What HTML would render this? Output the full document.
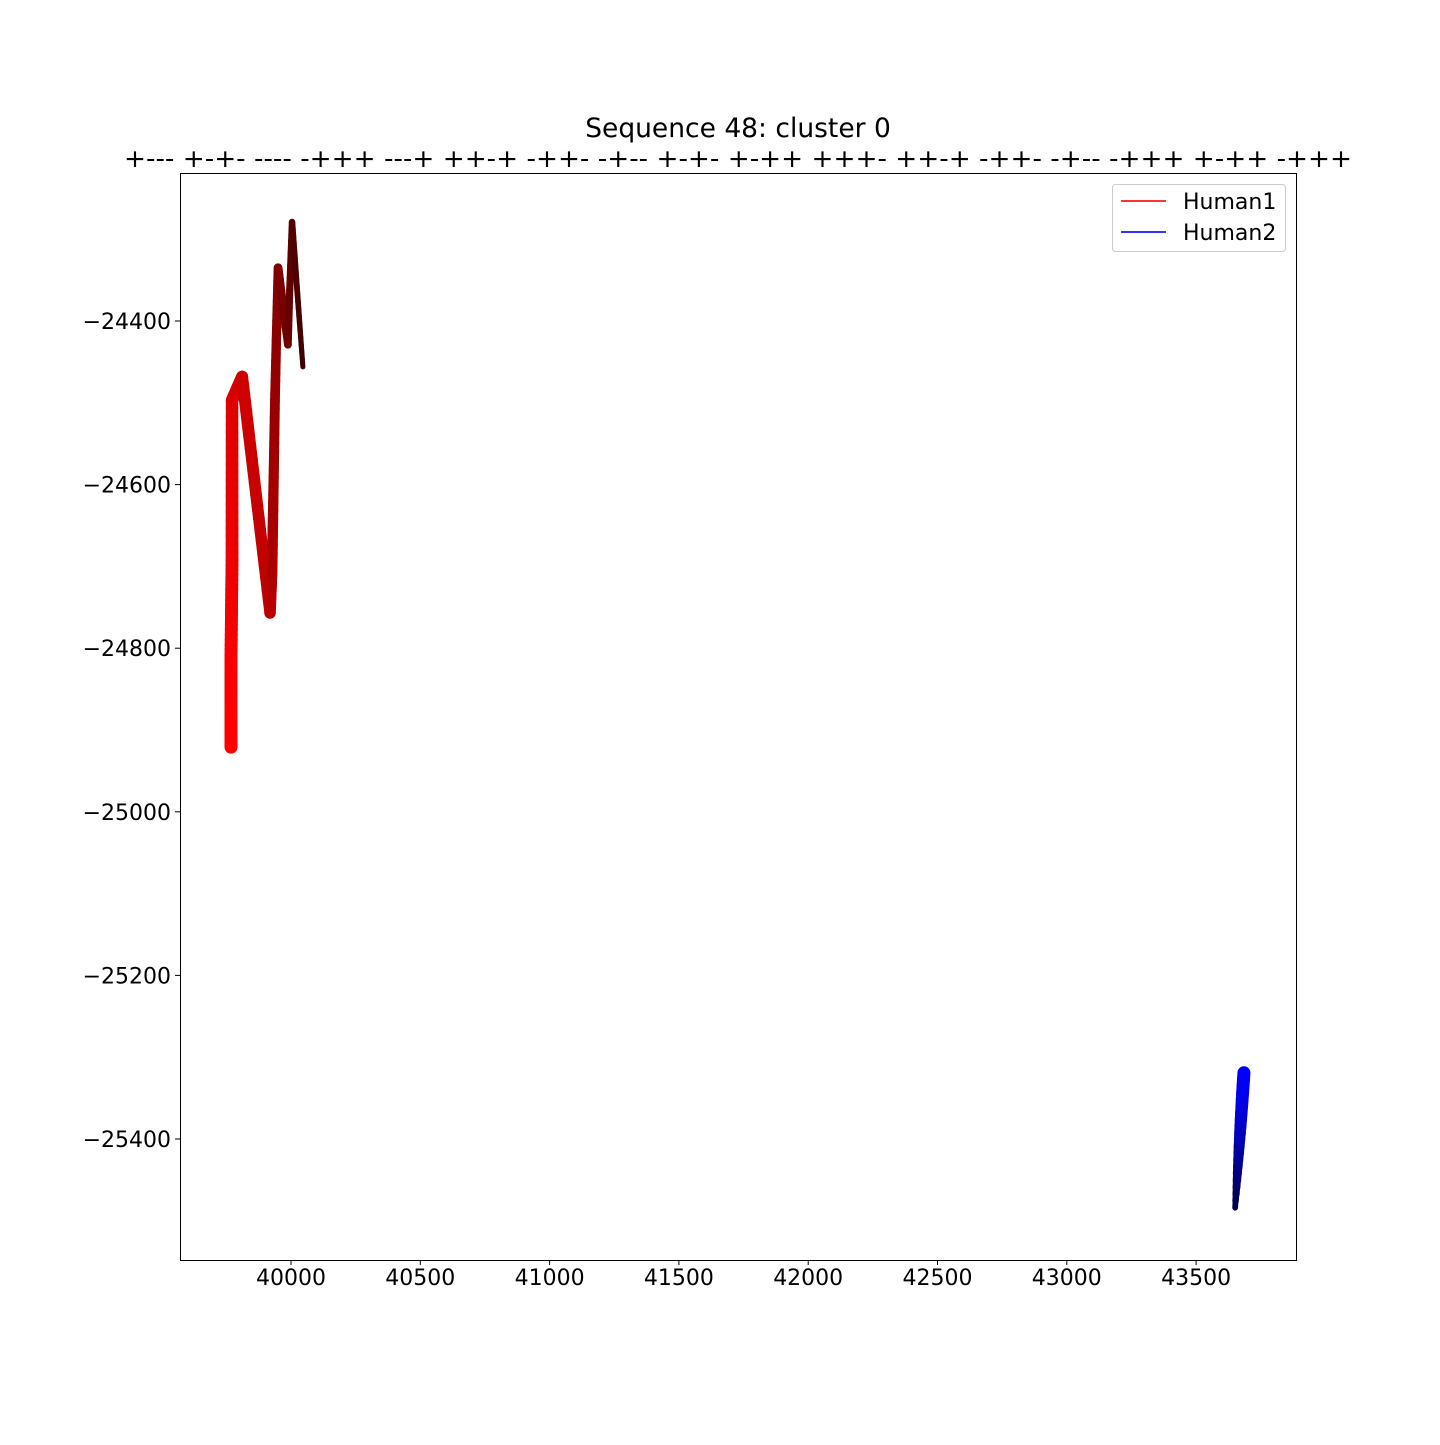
<!DOCTYPE html>
<html><head><meta charset="utf-8"><style>
body{margin:0;background:#fff}
svg text{font-family:"DejaVu Sans","Liberation Sans",sans-serif}
</style></head><body>
<svg id="chart" width="1440" height="1440" xmlns="http://www.w3.org/2000/svg">
<text x="738" y="137" font-size="26.5" text-anchor="middle">Sequence 48: cluster 0</text>
<text x="738" y="167" font-size="25" text-anchor="middle" textLength="1228" lengthAdjust="spacingAndGlyphs">+--- +-+- ---- -+++ ---+ ++-+ -++- -+-- +-+- +-++ +++- ++-+ -++- -+-- -+++ +-++ -+++</text>
<g id="plot"></g>
<rect x="180.5" y="173.5" width="1116" height="1087" fill="none" stroke="#000" stroke-width="1"/>
<g id="xticks"></g>
<g id="yticks"></g>
<g>
<rect x="1112.5" y="184.5" width="173" height="67" rx="3" fill="#fff" stroke="#ccc"/>
<line x1="1121" y1="201" x2="1166" y2="201" stroke="#ff3333" stroke-width="2"/>
<text x="1183" y="209" font-size="22">Human1</text>
<line x1="1121" y1="232" x2="1166" y2="232" stroke="#3333ff" stroke-width="2"/>
<text x="1183" y="240" font-size="22">Human2</text>
</g>
</svg>
<script>
const human1X=[39768,39768,39772,39772,39811,39919,39927,39938,39950,39988,40004,40046];
const human1Y=[-24921,-24814,-24692,-24497,-24468,-24757,-24704,-24497,-24335,-24429,-24279,-24456];
const human2X=[43685,43651];
const human2Y=[-25319,-25484];
const xTicks=[40000,40500,41000,41500,42000,42500,43000,43500];
const yTicks=[-24400,-24600,-24800,-25000,-25200,-25400];
const NS="http://www.w3.org/2000/svg";
function sx(v){return 291+(v-40000)*129.3/500;}
function sy(v){return 321-(v+24400)*163.6/200;}
const plot=document.getElementById('plot');
function drawTraj(xs,ys,c0,c1,w0,w1,name){
  const pts=[];
  for(let i=0;i<xs.length-1;i++){
    const n=20;
    for(let k=0;k<n;k++){const t=k/n;pts.push([xs[i]+(xs[i+1]-xs[i])*t,ys[i]+(ys[i+1]-ys[i])*t]);}
  }
  pts.push([xs[xs.length-1],ys[ys.length-1]]);
  const N=pts.length-1;
  for(let i=0;i<N;i++){
    const f=i/N;
    const fc=Math.pow(f,1.4), fw=f*f;
    const col=`rgb(${Math.round(c0[0]+(c1[0]-c0[0])*fc)},${Math.round(c0[1]+(c1[1]-c0[1])*fc)},${Math.round(c0[2]+(c1[2]-c0[2])*fc)})`;
    const l=document.createElementNS(NS,'line');
    l.setAttribute('x1',sx(pts[i][0]));l.setAttribute('y1',sy(pts[i][1]));
    l.setAttribute('x2',sx(pts[i+1][0]));l.setAttribute('y2',sy(pts[i+1][1]));
    l.setAttribute('stroke',col);l.setAttribute('stroke-width',w0+(w1-w0)*fw);
    l.setAttribute('stroke-linecap','round');
    
    
    plot.appendChild(l);
  }
}
drawTraj(human1X,human1Y,[255,0,0],[60,0,0],13,5,'human1-trajectory');
drawTraj(human2X,human2Y,[0,0,255],[0,0,60],13,5,'human2-trajectory');
const xg=document.getElementById('xticks');
xTicks.forEach(v=>{
  const x=sx(v);
  const l=document.createElementNS(NS,'line');
  l.setAttribute('x1',x);l.setAttribute('x2',x);l.setAttribute('y1',1260);l.setAttribute('y2',1265);l.setAttribute('stroke','#000');
  
  
  xg.appendChild(l);
  const t=document.createElementNS(NS,'text');
  t.setAttribute('x',x);t.setAttribute('y',1285);t.setAttribute('font-size','22');t.setAttribute('text-anchor','middle');
  t.textContent=v;
  
  
  xg.appendChild(t);
});
const yg=document.getElementById('yticks');
yTicks.forEach(v=>{
  const y=sy(v);
  const l=document.createElementNS(NS,'line');
  l.setAttribute('x1',175);l.setAttribute('x2',180);l.setAttribute('y1',y);l.setAttribute('y2',y);l.setAttribute('stroke','#000');
  
  
  yg.appendChild(l);
  const t=document.createElementNS(NS,'text');
  t.setAttribute('x',171);t.setAttribute('y',y+8);t.setAttribute('font-size','22');t.setAttribute('text-anchor','end');
  t.textContent='\u2212'+Math.abs(v);
  
  
  yg.appendChild(t);
});
</script>
</body></html>
